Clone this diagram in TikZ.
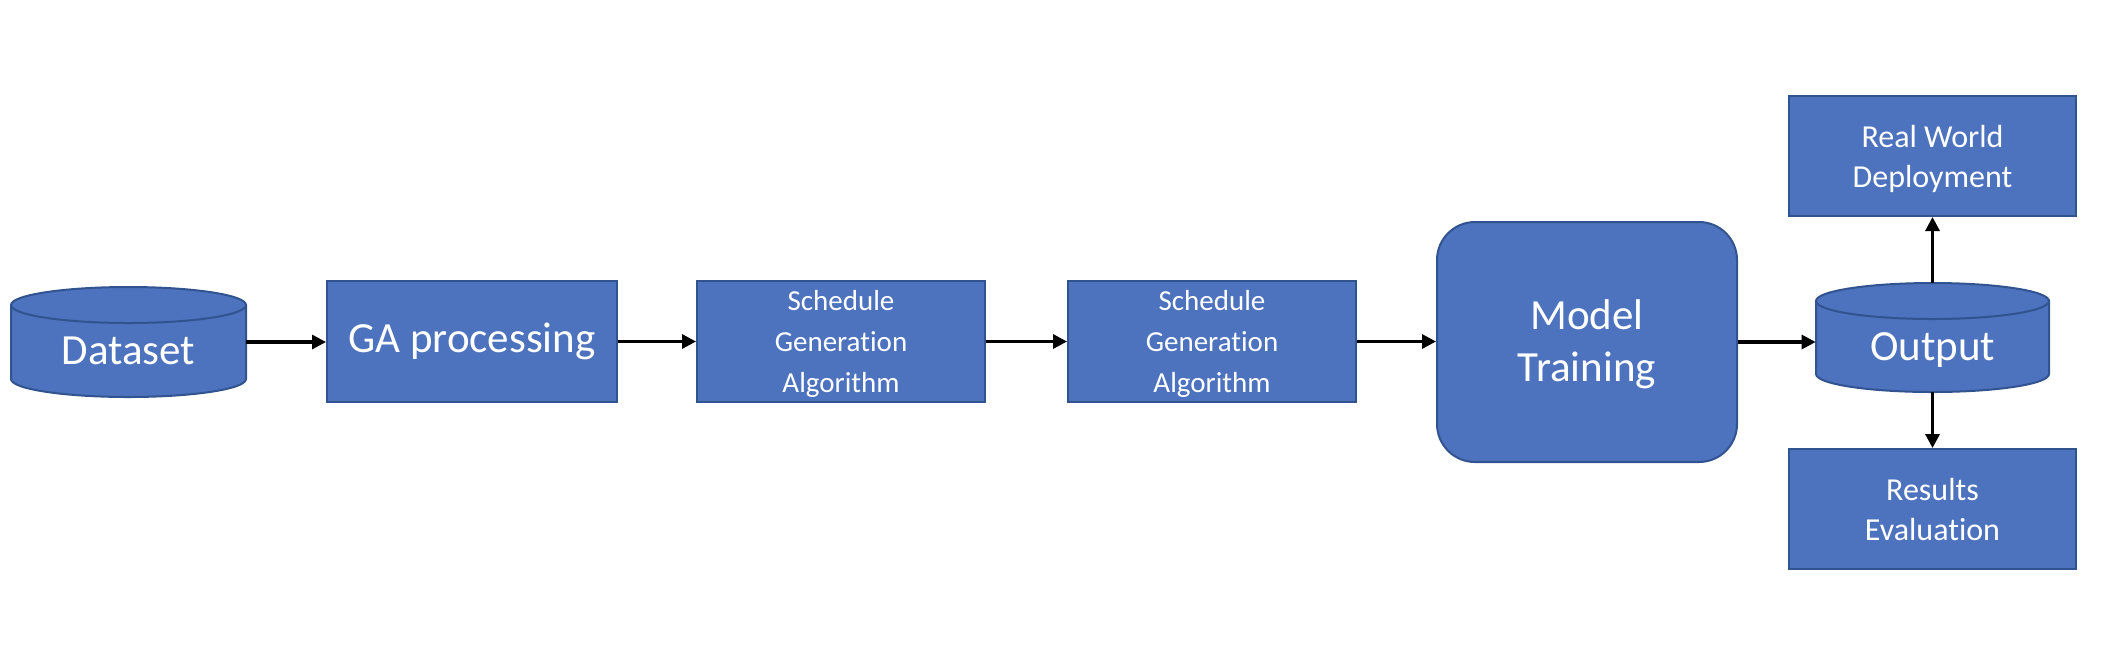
\documentclass[tikz,border=0pt]{standalone}
\usepackage{fontspec}
\setmainfont{Carlito}[Ligatures=NoCommon]
\usetikzlibrary{arrows.meta}
\definecolor{boxfill}{HTML}{4D72BE}
\definecolor{boxline}{HTML}{31538F}
\begin{document}
\begin{tikzpicture}[x=0.5pt,y=-0.5pt,
  box/.style={draw=boxline, fill=boxfill, line width=1pt, text=white, align=center, inner sep=0pt},
  bigtext/.style={font=\fontsize{21.5}{26}\selectfont},
  smalltext/.style={font=\fontsize{14.5}{20.7}\selectfont, text depth=0pt},
  midtext/.style={font=\fontsize{16}{20}\selectfont},
  cyltext/.style={text=white, align=center, inner sep=0pt, text height=22.8pt, text depth=0pt, font=\fontsize{21.5}{26}\selectfont},
  cylshape/.style={draw=boxline, fill=boxfill, line width=1pt},
  arr/.style={line width=1.6pt, -{Triangle[length=7pt,width=7pt]}}]
\useasboundingbox (0,0) rectangle (2128,650);
% Dataset cylinder
\path[cylshape] (11,305) -- (11,379) arc[start angle=180,end angle=360,x radius=58.75pt,y radius=9pt] -- (246,305) arc[start angle=0,end angle=180,x radius=58.75pt,y radius=9pt] -- cycle;
\draw[boxline, line width=1pt] (11,305) arc[start angle=180,end angle=360,x radius=58.75pt,y radius=9pt];
\node[cyltext, minimum width=117.5pt, minimum height=55pt] (data) at (128.5,342) {Dataset};
% Output cylinder
\path[cylshape] (1816,301) -- (1816,374) arc[start angle=180,end angle=360,x radius=58.25pt,y radius=9pt] -- (2049,301) arc[start angle=0,end angle=180,x radius=58.25pt,y radius=9pt] -- cycle;
\draw[boxline, line width=1pt] (1816,301) arc[start angle=180,end angle=360,x radius=58.25pt,y radius=9pt];
\node[cyltext, minimum width=116.5pt, minimum height=54.5pt] (out) at (1932.5,337.5) {Output};
% boxes
\node[box, bigtext, minimum width=145pt, minimum height=60.5pt] (ga) at (472,341.5) {GA processing};
\node[box, smalltext, minimum width=144pt, minimum height=60.5pt] (s1) at (841,341.5) {Schedule\\Generation\\Algorithm};
\node[box, smalltext, minimum width=144pt, minimum height=60.5pt] (s2) at (1212,341.5) {Schedule\\Generation\\Algorithm};
\node[box, bigtext, rounded corners=19pt, minimum width=150pt, minimum height=120pt, text depth=1pt] (model) at (1587,342) {Model\\Training};
\node[box, midtext, minimum width=143.5pt, minimum height=60pt, text depth=0pt] (real) at (1932.5,156) {Real World\\Deployment};
\node[box, midtext, minimum width=143.5pt, minimum height=60pt] (res) at (1932.5,509) {Results\\Evaluation};
% connectors
\draw[arr] (data.east) -- (data.east -| ga.west);
\draw[arr] (ga.east) -- (s1.west);
\draw[arr] (s1.east) -- (s2.west);
\draw[arr] (s2.east) -- (s2.east -| model.west);
\draw[arr] (model.east) -- (model.east -| out.west);
\draw[arr] (out.north) -- (real.south);
\draw[arr] (out.south) -- (res.north);
\end{tikzpicture}
\end{document}
